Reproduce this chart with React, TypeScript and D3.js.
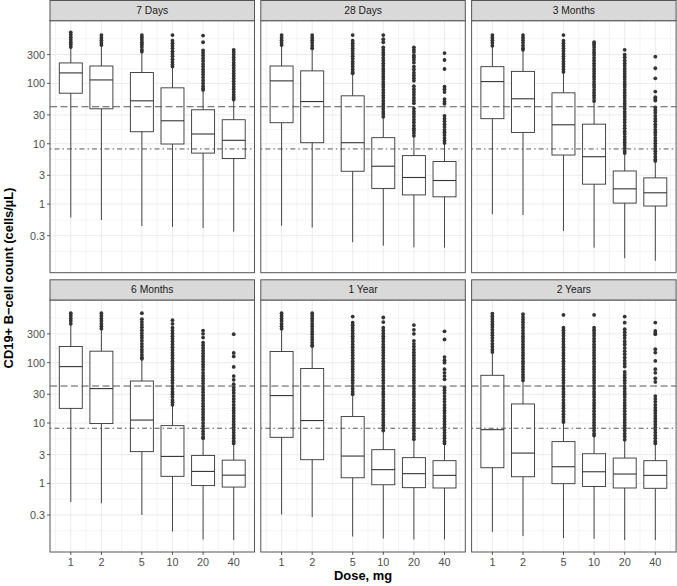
import React from 'react';
import * as d3 from 'd3';

const panelNames = ['7 Days', '28 Days', '3 Months', '6 Months', '1 Year', '2 Years'];
const doses = [1, 2, 5, 10, 20, 40];
const xTickLabels = ['1', '2', '5', '10', '20', '40'];
const yTicks = [0.3, 1, 3, 10, 30, 100, 300];
const yTickLabels = ['0.3', '1', '3', '10', '30', '100', '300'];
const refDashed = 41;
const refDotDash = 8.2;

const whiskerLow = [
  [0.6, 0.545, 0.434, 0.42, 0.4, 0.35],
  [0.44, 0.41, 0.233, 0.205, 0.193, 0.19],
  [0.68, 0.66, 0.36, 0.19, 0.127, 0.115],
  [0.49, 0.47, 0.3, 0.16, 0.118, 0.115],
  [0.306, 0.277, 0.132, 0.122, 0.118, 0.118],
  [0.158, 0.134, 0.124, 0.121, 0.115, 0.115],
];
const q1 = [
  [68.7, 37.9, 15.8, 9.9, 7.0, 5.7],
  [22.3, 10.4, 3.5, 1.82, 1.42, 1.32],
  [26, 15.4, 6.5, 2.14, 1.04, 0.93],
  [17.5, 9.8, 3.36, 1.31, 0.92, 0.87],
  [5.8, 2.47, 1.24, 0.95, 0.85, 0.84],
  [1.82, 1.29, 0.99, 0.89, 0.84, 0.83],
];
const medians = [
  [149, 114, 51.4, 24, 14.5, 11.4],
  [110, 50, 10.4, 4.24, 2.76, 2.46],
  [107, 55.5, 20.6, 6.1, 1.79, 1.54],
  [86, 37.2, 11.2, 2.8, 1.58, 1.37],
  [28.5, 11, 2.84, 1.69, 1.45, 1.36],
  [7.77, 3.18, 1.89, 1.56, 1.43, 1.36],
];
const q3 = [
  [218, 194, 151, 84.3, 36.5, 25],
  [194, 161, 62.2, 12.6, 6.36, 5.07],
  [189, 158, 69.7, 21.1, 3.54, 2.72],
  [185, 155, 49.7, 9.06, 2.91, 2.43],
  [153, 80, 12.8, 3.62, 2.67, 2.38],
  [61.8, 20.7, 4.92, 3.1, 2.63, 2.38],
];
const whiskerHigh = [
  [394, 413, 326, 184, 76, 52],
  [421, 371, 143, 27, 12.9, 10.0],
  [413, 357, 152, 48.8, 6.87, 5.13],
  [433, 358, 114, 19.7, 5.5, 4.55],
  [358, 185, 28.8, 7.2, 5.17, 4.43],
  [147, 47.9, 10.2, 6.09, 5.03, 4.43],
];

const outliers7d = [
  [700, 640, 580, 530, 480, 440, 400],
  [630, 570, 520, 470, 430],
  [630, 580, 530, 480, 440, 400, 360, 335],
  [630, 510, 460, 420, 380, 340, 310, 280, 250, 225, 205, 190],
  [620, 480, 350, 320, 290, 260, 235, 210, 190, 170, 155, 140, 125, 112, 100, 90, 82, 78],
  [360, 330, 300, 270, 245, 220, 200, 180, 162, 146, 132, 120, 108, 98, 88, 80, 72, 65, 59, 54],
];
const outliers28d = [
  [630, 570, 520, 470, 430],
  [630, 570, 520, 470, 420, 380],
  [630, 510, 460, 420, 380, 345, 310, 280, 255, 230, 210, 190, 170, 155, 147],
  [630, 540, 480, 395, 360, 325, 295, 265, 240, 215, 195, 175, 160, 145, 130, 118, 106, 96, 87, 78, 70, 63, 57, 51, 46, 42, 38, 34, 31, 28],
  [395, 360, 330, 290, 270, 245, 220, 190, 170, 150, 135, 122, 110, 90, 80, 72, 65, 58, 52, 47, 38, 34, 31, 28, 25, 22.5, 20, 18, 16.5, 15, 13.5],
  [318, 244, 173, 88, 80, 72, 55, 50, 46, 29, 26, 23.5, 21, 19, 17, 15.5, 14, 12.5, 11.3, 10.3],
];
const outliers3m = [
  [630, 570, 520, 470, 420],
  [630, 570, 520, 470, 420, 380, 360],
  [630, 510, 460, 420, 380, 345, 310, 280, 255, 230, 210, 190, 170, 155],
  [480, 440, 400, 360, 325, 295, 265, 240, 215, 195, 175, 160, 145, 130, 118, 106, 96, 87, 78, 70, 63, 57, 51],
  [360, 300, 270, 240, 215, 195, 175, 160, 145, 130, 118, 106, 96, 87, 78, 70, 63, 57, 51, 46, 42, 38, 34, 31, 28, 25, 22.5, 20, 18, 16, 14.5, 13, 11.7, 10.5, 9.5, 8.5, 7.6, 7.0],
  [277, 178, 121, 73, 59, 55, 52, 40, 36, 32.5, 29, 26, 23.5, 21, 19, 17, 15.5, 14, 12.5, 11.3, 10.2, 9.2, 8.3, 7.5, 6.8, 6.1, 5.5, 5.2],
];
const outliers6m = [
  [660, 600, 540, 490, 440],
  [660, 600, 540, 490, 440, 400, 365],
  [660, 525, 470, 425, 385, 345, 310, 280, 255, 230, 205, 185, 165, 150, 135, 122, 116],
  [505, 440, 380, 340, 305, 275, 250, 225, 200, 180, 162, 146, 132, 118, 106, 96, 86, 78, 70, 63, 57, 51, 46, 41, 37, 33, 30, 27, 24, 22, 20],
  [340, 300, 260, 215, 195, 175, 158, 142, 128, 115, 104, 94, 85, 76, 68, 61, 55, 50, 45, 40, 36, 32.5, 29, 26, 23.5, 21, 19, 17, 15.3, 13.8, 12.4, 11.2, 10, 9, 8.1, 7.3, 6.6, 5.9, 5.6],
  [296, 145, 127, 85, 60, 52, 44, 38.6, 35, 31.5, 28, 25, 22.5, 20, 18, 16.2, 14.6, 13.1, 11.8, 10.6, 9.5, 8.5, 7.7, 6.9, 6.2, 5.6, 5.0, 4.6],
];
const outliers1y = [
  [660, 600, 540, 490, 440, 400, 365],
  [660, 600, 540, 490, 440, 400, 360, 325, 295, 265, 240, 215, 195, 188],
  [580, 460, 415, 375, 340, 305, 275, 250, 225, 200, 180, 162, 146, 132, 118, 106, 96, 86, 78, 70, 63, 57, 51, 46, 41, 37, 33, 30],
  [560, 470, 380, 340, 305, 275, 250, 225, 200, 180, 162, 146, 132, 118, 106, 96, 86, 78, 70, 63, 57, 51, 46, 41, 37, 33, 30, 27, 24, 21.5, 19.5, 17.5, 15.7, 14, 12.6, 11.3, 10.2, 9.2, 8.3, 7.5],
  [420, 350, 300, 230, 205, 185, 165, 148, 133, 120, 108, 97, 87, 78, 70, 63, 57, 51, 46, 41, 37, 33, 30, 27, 24, 21.5, 19.5, 17.5, 15.7, 14, 12.6, 11.3, 10.2, 9.2, 8.3, 7.5, 6.7, 6.0, 5.4],
  [331, 242, 124, 110, 100, 78, 68, 60, 53, 38.6, 35, 31.5, 28, 25, 22.5, 20, 18, 16.2, 14.6, 13.1, 11.8, 10.6, 9.5, 8.5, 7.7, 6.9, 6.2, 5.6, 5.0, 4.6],
];
const outliers2y = [
  [650, 590, 530, 480, 430, 390, 350, 315, 285, 255, 230, 205, 185, 165, 150],
  [635, 570, 515, 465, 420, 380, 340, 305, 275, 250, 225, 200, 180, 162, 146, 132, 118, 106, 96, 86, 78, 70, 63, 57, 51],
  [618, 380, 345, 310, 280, 250, 225, 200, 180, 162, 146, 132, 118, 106, 96, 86, 78, 70, 63, 57, 51, 46, 41, 37, 33, 30, 27, 24, 21.5, 19.5, 17.5, 15.7, 14, 12.6, 11.3, 10.4],
  [618, 380, 345, 310, 280, 250, 225, 200, 180, 162, 146, 132, 118, 106, 96, 86, 78, 70, 63, 57, 51, 46, 41, 37, 33, 30, 27, 24, 21.5, 19.5, 17.5, 15.7, 14, 12.6, 11.3, 10.2, 9.2, 8.3, 7.5, 6.7, 6.2],
  [580, 460, 358, 320, 285, 255, 225, 200, 175, 155, 138, 122, 108, 96, 86, 70, 63, 57, 51, 46, 41, 37, 33, 30, 27, 24, 21.5, 19.5, 17.5, 15.7, 14, 12.6, 11.3, 10.2, 9.2, 8.3, 7.5, 6.7, 6.0, 5.3],
  [462, 336, 310, 296, 167, 147, 107, 78, 68, 55, 48, 28, 25, 22.5, 20, 18, 16.2, 14.6, 13.1, 11.8, 10.6, 9.5, 8.5, 7.7, 6.9, 6.2, 5.6, 5.0, 4.6],
];
const outliers = [outliers7d, outliers28d, outliers3m, outliers6m, outliers1y, outliers2y];

// layout
const W = 677;
const H = 586;
const plotLeft = 50;
const panelW = 204.5;
const panelGap = 6.3;
const stripH = 20.7;
const panelH = 252;
const rowTops = [0, 279.3];
const font = 'Liberation Sans, Arial, Helvetica, sans-serif';
const boxHalfLog = 0.113;

const logDoseMin = Math.log10(d3.min(doses) as number) - boxHalfLog;
const logDoseMax = Math.log10(d3.max(doses) as number) + boxHalfLog;
const xPad = (logDoseMax - logDoseMin) * 0.05;
const xDomain = [Math.pow(10, logDoseMin - xPad), Math.pow(10, logDoseMax + xPad)];
const yDomain = [Math.pow(10, -1.136), Math.pow(10, 3.038)];

function minorBreaks(breaksLog: number[], lo: number, hi: number) {
  const bd = breaksLog[1] - breaksLog[0];
  const b = [breaksLog[0] - bd, ...breaksLog, breaksLog[breaksLog.length - 1] + bd];
  const out: number[] = [];
  for (let i = 0; i < b.length - 1; i++) {
    const m = (b[i] + b[i + 1]) / 2;
    if (m > lo && m < hi) out.push(Math.pow(10, m));
  }
  return out;
}

function Panel({ idx }: { idx: number }) {
  const col = idx % 3;
  const row = Math.floor(idx / 3);
  const x0 = plotLeft + col * (panelW + panelGap);
  const sTop = rowTops[row];
  const pTop = sTop + stripH;
  const x = d3.scaleLog().domain(xDomain).range([x0, x0 + panelW]);
  const y = d3.scaleLog().domain(yDomain).range([pTop + panelH, pTop]);
  const bw = x(Math.pow(10, boxHalfLog)) - x(1);
  const xMinor = minorBreaks(doses.map((d) => Math.log10(d)), Math.log10(xDomain[0]), Math.log10(xDomain[1]));
  const yMinor = minorBreaks(yTicks.map((d) => Math.log10(d)), Math.log10(yDomain[0]), Math.log10(yDomain[1]));
  const dark = '#333333';
  return (
    <g>
      <rect x={x0} y={pTop} width={panelW} height={panelH} fill="#ffffff" />
      {yMinor.map((v, i) => (
        <line key={'ym' + i} x1={x0} x2={x0 + panelW} y1={y(v)} y2={y(v)} stroke="#f0f0f0" strokeWidth={0.8} />
      ))}
      {xMinor.map((v, i) => (
        <line key={'xm' + i} x1={x(v)} x2={x(v)} y1={pTop} y2={pTop + panelH} stroke="#f0f0f0" strokeWidth={0.8} />
      ))}
      {yTicks.map((v, i) => (
        <line key={'yg' + i} x1={x0} x2={x0 + panelW} y1={y(v)} y2={y(v)} stroke="#ebebeb" strokeWidth={1} />
      ))}
      {doses.map((v, i) => (
        <line key={'xg' + i} x1={x(v)} x2={x(v)} y1={pTop} y2={pTop + panelH} stroke="#ebebeb" strokeWidth={1} />
      ))}
      {doses.map((d, i) => {
        const cx = x(d);
        return (
          <g key={'b' + i}>
            <line x1={cx} x2={cx} y1={y(whiskerHigh[idx][i])} y2={y(q3[idx][i])} stroke={dark} strokeWidth={0.9} />
            <line x1={cx} x2={cx} y1={y(q1[idx][i])} y2={y(whiskerLow[idx][i])} stroke={dark} strokeWidth={0.9} />
            <rect x={cx - bw} y={y(q3[idx][i])} width={bw * 2} height={y(q1[idx][i]) - y(q3[idx][i])} fill="#ffffff" stroke={dark} strokeWidth={0.9} />
            <line x1={cx - bw} x2={cx + bw} y1={y(medians[idx][i])} y2={y(medians[idx][i])} stroke={dark} strokeWidth={1.1} />
            {outliers[idx][i].map((v, j) => (
              <circle key={j} cx={cx} cy={y(v)} r={1.9} fill={dark} />
            ))}
          </g>
        );
      })}
      <line x1={x0} x2={x0 + panelW} y1={y(refDashed)} y2={y(refDashed)} stroke="#444" strokeWidth={0.9} strokeDasharray="7,3.5" />
      <line x1={x0} x2={x0 + panelW} y1={y(refDotDash)} y2={y(refDotDash)} stroke="#444" strokeWidth={0.9} strokeDasharray="1.5,3,5,3" />
      <rect x={x0} y={pTop} width={panelW} height={panelH} fill="none" stroke="#555" strokeWidth={1} />
      <rect x={x0} y={sTop + 0.5} width={panelW} height={stripH - 0.5} fill="#d9d9d9" stroke="#555" strokeWidth={1} />
      <text x={x0 + panelW / 2} y={sTop + stripH / 2 + 0.5} textAnchor="middle" dominantBaseline="middle" fontFamily={font} fontSize={10.3} fill="#1a1a1a">
        {panelNames[idx]}
      </text>
      {col === 0 &&
        yTicks.map((v, i) => (
          <g key={'yt' + i}>
            <line x1={x0 - 3} x2={x0} y1={y(v)} y2={y(v)} stroke={dark} strokeWidth={0.8} />
            <text x={x0 - 5} y={y(v)} textAnchor="end" dominantBaseline="central" fontFamily={font} fontSize={10.8} fill="#4d4d4d">
              {yTickLabels[i]}
            </text>
          </g>
        ))}
      {row === 1 &&
        doses.map((v, i) => (
          <g key={'xt' + i}>
            <line x1={x(v)} x2={x(v)} y1={pTop + panelH} y2={pTop + panelH + 3} stroke={dark} strokeWidth={0.8} />
            <text x={x(v)} y={pTop + panelH + 14} textAnchor="middle" fontFamily={font} fontSize={10.8} fill="#4d4d4d">
              {xTickLabels[i]}
            </text>
          </g>
        ))}
    </g>
  );
}

export default function App() {
  return (
    <div style={{ position: 'absolute', left: 0, top: 0 }}>
      <svg width={W} height={H} style={{ display: 'block', background: '#ffffff' }}>
        <rect x={0} y={0} width={W} height={H} fill="#ffffff" />
        {panelNames.map((_, i) => (
          <Panel key={i} idx={i} />
        ))}
        <text
          transform={`translate(13, 278) rotate(-90)`}
          textAnchor="middle"
          fontFamily={font}
          fontSize={12.9}
          fontWeight="bold"
          fill="#000"
        >
          CD19+ B−cell count (cells/µL)
        </text>
        <text x={plotLeft + (3 * panelW + 2 * panelGap) / 2} y={580} textAnchor="middle" fontFamily={font} fontSize={12.9} fontWeight="bold" fill="#000">
          Dose, mg
        </text>
      </svg>
    </div>
  );
}
